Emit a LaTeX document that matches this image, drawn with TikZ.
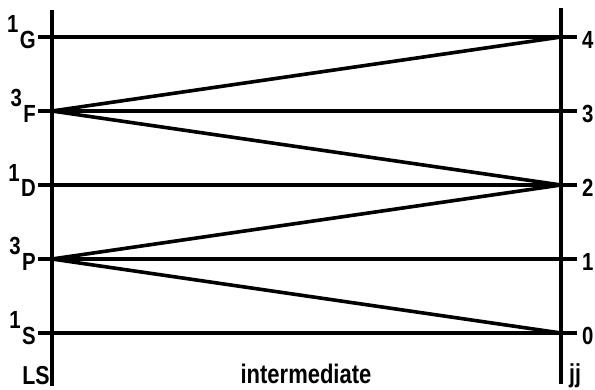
\documentclass[tikz,border=0pt]{standalone}
\usepackage{fontspec}
\setmainfont{Liberation Sans}
\newcommand\tallbox[1]{\scalebox{0.97}[1.18]{#1}}
\begin{document}
\begin{tikzpicture}[x=1pt,y=-1pt,
  ln/.style={line width=3.6pt,line cap=butt},
  lvl/.style={font=\fontsize{21}{21}\selectfont\bfseries,inner sep=0pt},
  btm/.style={font=\fontsize{22}{22}\selectfont\bfseries,inner sep=0pt,anchor=base}]
\useasboundingbox (0,0) rectangle (595,389);
% vertical axes
\coordinate (Lt) at (52,10); \coordinate (Lb) at (52,386);
\coordinate (Rt) at (561,8); \coordinate (Rb) at (561,384);
\draw[ln] (Lt) -- (Lb);
\draw[ln] (Rt) -- (Rb);
% level lines
\foreach \n/\y in {G/37,F/111,D/185,P/259,S/333}{
  \coordinate (L\n) at (52,\y);
  \coordinate (Ls\n) at (38,\y);
}
\foreach \n/\y in {4/37,3/111,2/185,1/259,0/333}{
  \coordinate (R\n) at (561,\y);
  \coordinate (Re\n) at (577,\y);
}
\draw[ln] (LsG) -- (Re4);
\draw[ln] (LsF) -- (Re3);
\draw[ln] (LsD) -- (Re2);
\draw[ln] (LsP) -- (Re1);
\draw[ln] (LsS) -- (Re0);
% correlation lines
\draw[ln] (LF) -- (R4);
\draw[ln] (LF) -- (R2);
\draw[ln] (LP) -- (R2);
\draw[ln] (LP) -- (R0);
% left labels
\foreach \n/\d/\y in {G/1/37,F/3/111,D/1/185,P/3/259,S/1/333}{
  \node[lvl,anchor=east] (t\n) at (36,\y+3) {\tallbox{\n}};
  \node[lvl,anchor=south east] (s\n) at ([xshift=-1pt,yshift=-2pt]t\n.north west) {\tallbox{\d}};
}
% right labels
\foreach \d/\y in {4/37,3/111,2/185,1/259,0/333}{
  \node[lvl,anchor=west] (r\d) at (582,\y+3) {\tallbox{\d}};
}
% bottom labels
\node[btm] (ls) at (36,384) {\tallbox{LS}};
\node[btm] (im) at (306,383) {\scalebox{1}[1.22]{intermediate}};
\node[btm] (jj) at (575,382) {\tallbox{jj}};
\end{tikzpicture}
\end{document}
